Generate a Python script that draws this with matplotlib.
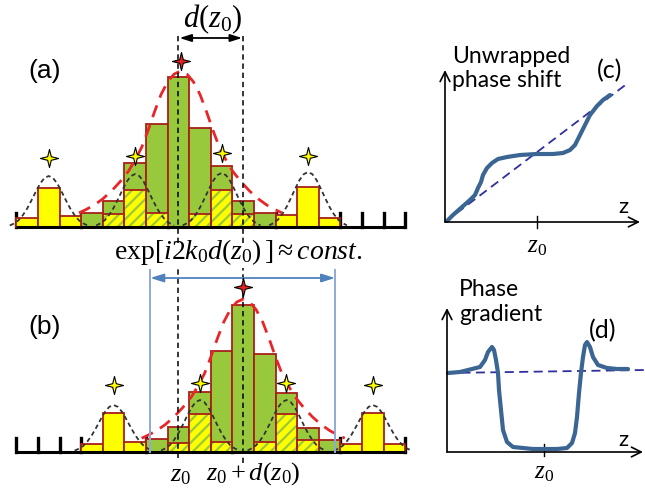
import matplotlib.pyplot as plt
import numpy as np
from matplotlib.path import Path

plt.rcParams['mathtext.fontset'] = 'custom'
plt.rcParams['mathtext.rm'] = 'Liberation Serif'
plt.rcParams['mathtext.it'] = 'Liberation Serif:italic'
plt.rcParams['hatch.linewidth'] = 1.6

# ---- data ----
# panel (a): histogram bins (bin index), heights in arbitrary units
a_side_bins = [0, 1, 2, 12, 13, 14]
a_side_h = [9, 39, 11, 12, 40, 9]
a_main_bins = [3, 4, 5, 6, 7, 8, 9, 10, 11]
a_main_h = [14, 26, 64, 103, 150, 99, 61, 26, 14]
a_main_lobe = [0, 13, 37, 14, 0, 13, 37, 13, 0]
a_bump_x = [1.5, 5.5, 9.5, 13.5]
a_bump_h = [51, 53, 54, 55]
a_star_h = [69, 71, 74, 71]
a_env_x, a_env_h, a_peak_h = 7.6, 156, 166
a_ticks = [0, 3, 7, 12, 15, 16, 17, 18]

# panel (b): same grid, shifted
b_side_bins = [3, 4, 5, 15, 16, 17]
b_side_h = [8, 39, 10, 8, 39, 8]
b_main_bins = [6, 7, 8, 9, 10, 11, 12, 13, 14]
b_main_h = [13, 25, 60, 101, 147, 98, 59, 24, 12]
b_main_lobe = [0, 9, 38, 10, 0, 10, 38, 12, 0]
b_bump_x = [4.5, 8.5, 12.5, 16.5]
b_bump_h = [47, 52, 52, 47]
b_star_h = [67, 69, 69, 67]
b_env_x, b_env_h, b_peak_h = 10.5, 153, 165
b_ticks = [0, 1, 2, 3, 6, 10, 15, 18]

z0_bin = 7.5
z0_shift_bin = 10.5
window = [6.2, 14.75]

# curve shapes (half profiles, mirrored)
bump_dx = [0, 0.2, 0.4, 0.6, 0.8, 1.0, 1.2, 1.4, 1.6, 1.8]
bump_frac = [1, 0.96, 0.85, 0.69, 0.52, 0.36, 0.23, 0.13, 0.07, 0.03]
env_dx = [0, 0.3, 0.6, 0.9, 1.2, 1.5, 1.8, 2.1, 2.4, 2.8, 3.2, 3.6, 4.0, 4.4, 4.7]
env_frac = [1, 0.98, 0.93, 0.85, 0.74, 0.62, 0.51, 0.43, 0.36, 0.29, 0.23, 0.18, 0.14, 0.11, 0.09]

# panel (c): unwrapped phase shift
c_z = [2, 8, 17, 25, 30, 33, 36, 38, 42, 47, 53, 62, 75, 92, 108, 118, 125, 130, 135, 140, 145, 152, 158, 165]
c_phase = [1, 7, 15, 22, 27, 34, 40, 47, 54, 59, 63, 65, 67, 68, 68, 69, 72, 77, 87, 97, 107, 116, 122, 127]
c_lin_z = [0, 183]
c_lin = [0, 139]
c_z0 = 92

# panel (d): phase gradient
d_z = [1, 13, 25, 33, 38, 41, 45, 47, 49, 51, 52, 54, 56, 60, 66, 86, 110, 120, 125, 128, 130, 132,
       134, 136, 138, 140, 143, 146, 151, 160, 170, 181]
d_grad = [79, 80, 83, 85, 92, 100, 105, 102, 92, 79, 62, 42, 22, 10, 5, 3, 3, 4, 9, 19, 35, 59,
          79, 95, 107, 110, 105, 95, 87, 84, 83, 83]
d_lin_z = [0, 198]
d_lin = [79, 82]
d_z0 = 97

W, H = 645, 491
GREEN = '#98c93c'
YELLOW = '#ffff00'
MAROON = '#a8201a'

fig = plt.figure(figsize=(W / 100, H / 100), dpi=100)


def overlay(x0, sx, y0, sy):
    ax = fig.add_axes([0, 0, 1, 1])
    ax.set_xlim(-x0 / sx, (W - x0) / sx)
    ax.set_ylim((y0 - H) / sy, y0 / sy)
    ax.axis('off')
    return ax


canvas = fig.add_axes([0, 0, 1, 1])
canvas.set_xlim(0, W)
canvas.set_ylim(H, 0)
canvas.axis('off')

r = 0.2
star = Path([(0, 1), (r, r), (1, 0), (r, -r), (0, -1), (-r, -r), (-1, 0), (-r, r), (0, 1)],
            [Path.MOVETO] + [Path.LINETO] * 7 + [Path.CLOSEPOLY])


def mirror(dx, frac):
    dx = np.asarray(dx, float)
    frac = np.asarray(frac, float)
    return np.concatenate([-dx[::-1], dx[1:]]), np.concatenate([frac[::-1], frac[1:]])


def histogram_panel(ax, side_bins, side_h, main_bins, main_h, main_lobe,
                    bump_x, bump_h, star_h, env_x, env_h, peak_h, ticks):
    right = max(ticks)
    ax.plot([0, right], [0, 0], color='black', lw=2.2, zorder=6, solid_capstyle='butt')
    for t in ticks:
        ax.plot([t, t], [0, 14], color='black', lw=2.4, zorder=1)
    x_main = np.array(main_bins) + 0.5
    ax.bar(x_main, main_h, width=1, color=GREEN, edgecolor=MAROON, lw=1.3, zorder=2)
    ax.bar(x_main, main_lobe, width=1, color=YELLOW, edgecolor=GREEN, hatch='///', lw=0, zorder=3)
    lobe = np.array(main_lobe)
    ax.bar(x_main[lobe > 0], lobe[lobe > 0], width=1, fill=False, edgecolor=MAROON, lw=1.3, zorder=3.5)
    ax.bar(np.array(side_bins) + 0.5, side_h, width=1, color=YELLOW, edgecolor=MAROON, lw=1.3, zorder=3)
    bx, bf = mirror(bump_dx, bump_frac)
    for xc, hc in zip(bump_x, bump_h):
        ax.plot(bx + xc, bf * hc, color='#333333', lw=1.3, ls=(0, (2.5, 1.8)), zorder=7)
    ex, ef = mirror(env_dx, env_frac)
    ax.plot(ex + env_x, ef * env_h, color='#e8262a', lw=2.0, ls=(0, (4.5, 3)), zorder=8)
    ax.plot(bump_x, star_h, ls='none', marker=star, ms=13, mfc=YELLOW, mec='black', mew=0.8, zorder=10)
    ax.plot([env_x], [peak_h], ls='none', marker=star, ms=13, mfc='#e32222', mec='black', mew=0.8, zorder=10)


ax_a = overlay(16.3, 21.61, 227, 1)
histogram_panel(ax_a, a_side_bins, a_side_h, a_main_bins, a_main_h, a_main_lobe,
                a_bump_x, a_bump_h, a_star_h, a_env_x, a_env_h, a_peak_h, a_ticks)
ax_b = overlay(16.3, 21.61, 452, 1)
histogram_panel(ax_b, b_side_bins, b_side_h, b_main_bins, b_main_h, b_main_lobe,
                b_bump_x, b_bump_h, b_star_h, b_env_x, b_env_h, b_peak_h, b_ticks)

# guide lines
guide = dict(color='black', lw=1.1, ls=(0, (3.5, 2.5)), zorder=9)
ax_a.plot([z0_bin, z0_bin], [-16, 192], **guide)
ax_a.plot([z0_shift_bin, z0_shift_bin], [-16, 192], **guide)
ax_b.plot([z0_bin, z0_bin], [-6, 184], **guide)
ax_b.plot([z0_shift_bin, z0_shift_bin], [-11, 184], **guide)
ax_a.annotate('', xy=(z0_shift_bin - 0.05, 189), xytext=(z0_bin + 0.05, 189),
              arrowprops=dict(arrowstyle='<|-|>,head_length=0.7,head_width=0.22', color='black',
                              lw=1.3, shrinkA=0, shrinkB=0), zorder=9)

for wx in window:
    ax_b.plot([wx, wx], [0, 182], color='#8eaadb', lw=1.4, zorder=9)
ax_b.annotate('', xy=(window[1], 174), xytext=(window[0], 174),
              arrowprops=dict(arrowstyle='<|-|>,head_length=0.8,head_width=0.25', color='#4f81bd',
                              lw=1.3, shrinkA=0, shrinkB=0), zorder=9)

# texts
sans = 'Liberation Sans'
canvas.text(45, 71, '(a)', fontsize=19, family=sans, ha='center', va='center')
canvas.text(45, 327, '(b)', fontsize=19, family=sans, ha='center', va='center')
canvas.text(213, 19, r'$d(z_0)$', fontsize=22, ha='center', va='center')
canvas.text(238, 252, r'$\mathrm{exp}[i2k_0d(z_0)\,]\approx \mathit{const.}$', fontsize=20,
            ha='center', va='center')
canvas.text(181, 474, r'$z_0$', fontsize=19, ha='center', va='center')
canvas.text(253, 474, r'$z_0+d(z_0)$', fontsize=19, ha='center', va='center')

# panel (c)
ax_c = overlay(445, 1, 222, 1)
arrow_kw = dict(arrowstyle='->,head_length=0.7,head_width=0.35', color='black', lw=1.2,
                shrinkA=0, shrinkB=0)
ax_c.annotate('', xy=(0, 152), xytext=(0, 0), arrowprops=arrow_kw)
ax_c.annotate('', xy=(195, 0), xytext=(0, 0), arrowprops=arrow_kw)
ax_c.plot([c_z0, c_z0], [-6, 6], color='black', lw=1)
ax_c.plot(c_lin_z, c_lin, color='#2f2f9f', lw=1.3, ls=(0, (5, 3)))
ax_c.plot(c_z, c_phase, color='#3b6592', lw=3, solid_capstyle='round')

# panel (d)
ax_d = overlay(447, 1, 452, 1)
ax_d.annotate('', xy=(0, 144), xytext=(0, 0), arrowprops=arrow_kw)
ax_d.annotate('', xy=(196, 0), xytext=(0, 0), arrowprops=arrow_kw)
ax_d.plot([d_z0, d_z0], [-4, 8], color='black', lw=1)
ax_d.plot(d_lin_z, d_lin, color='#2f2f9f', lw=1.3, ls=(0, (5, 3)))
ax_d.plot(d_z, d_grad, color='#3b6592', lw=3, solid_capstyle='round')

label = 'Lato'
canvas.text(452, 46, 'Unwrapped\nphase shift', fontsize=16.5, family=label, ha='left', va='top',
            linespacing=1.15)
canvas.text(459, 279, 'Phase\ngradient', fontsize=16.5, family=label, ha='left', va='top',
            linespacing=1.25)
canvas.text(610, 71, '(c)', fontsize=18, family=label, ha='center', va='center')
canvas.text(603, 331, '(d)', fontsize=18, family=label, ha='center', va='center')
canvas.text(623, 207, 'z', fontsize=16, family=label, ha='center', va='center')
canvas.text(623, 440, 'z', fontsize=16, family=label, ha='center', va='center')
canvas.text(537, 246, r'$z_0$', fontsize=18, ha='center', va='center')
canvas.text(544, 472, r'$z_0$', fontsize=18, ha='center', va='center')

fig.savefig('out.png', dpi=100)
